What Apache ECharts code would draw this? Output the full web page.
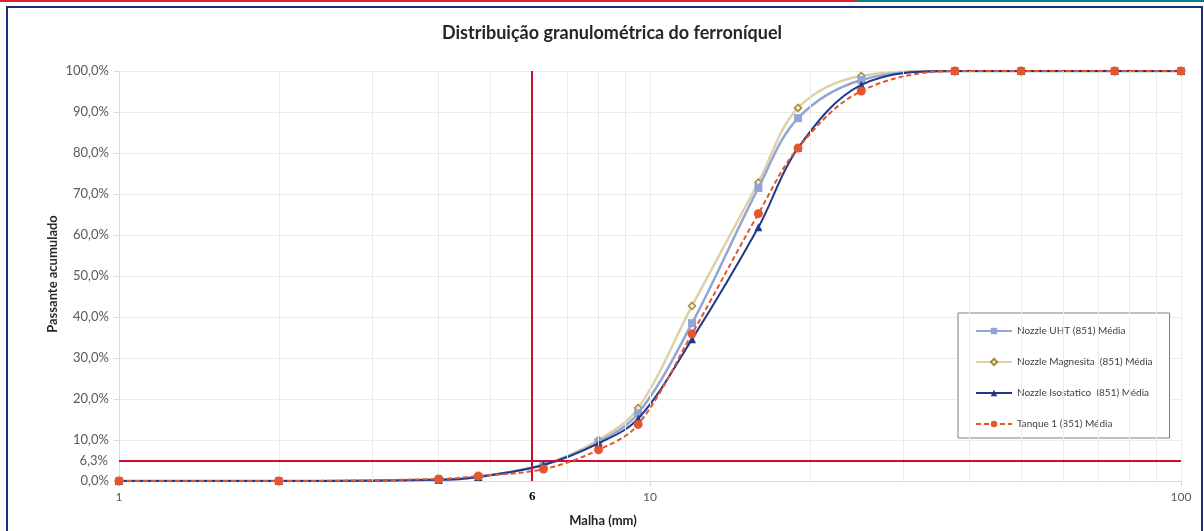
<!DOCTYPE html>
<html><head><meta charset="utf-8">
<script src="https://cdn.jsdelivr.net/npm/echarts@6/dist/echarts.min.js"></script>
<style>html,body{margin:0;padding:0;background:#fff}#c{width:1204px;height:531px}</style>
</head><body><div id="c"></div>
<script>
// Malha (mm) – sieve openings
const sizes = [1, 2, 4, 4.75, 6.3, 8, 9.5, 12, 16, 19, 25, 37.5, 50, 75, 100];
// Passante acumulado (%)
const uht      = [0, 0, 0.3, 1.0, 4.0, 9.5, 16.5, 38.5, 71.5, 88.5, 97.8, 100, 100, 100, 100];
const magnesita= [0, 0, 0.3, 1.0, 4.0, 10.0, 17.8, 42.7, 72.8, 91.0, 98.8, 100, 100, 100, 100];
const isostatico=[0, 0, 0.3, 1.0, 3.9, 9.2, 15.2, 34.6, 61.9, 81.2, 96.6, 100, 100, 100, 100];
const tanque   = [0, 0, 0.5, 1.2, 2.9, 7.6, 13.8, 35.9, 65.2, 81.2, 95.1, 100, 100, 100, 100];
const seriesNames = ['Nozzle UHT (851) Média', 'Nozzle Magnesita  (851) Média', 'Nozzle Isostatico  (851) Média', 'Tanque 1 (851) Média'];
const minorX = [2,3,4,5,6,7,8,9,10,20,30,40,50,60,70,80,90];
const refX = 6;
const refYLabel = 6.3;   // value written on the reference line
const refYDrawn = 4.9;   // height at which the reference picture draws that line

const pts = arr => sizes.map((x, i) => [x, arr[i]]);
const fmtPct = v => v.toFixed(1).replace('.', ',') + '%';
const FONT = 'Lato';

const chart = echarts.init(document.getElementById('c'), null, {renderer: 'canvas'});
chart.setOption({
  animation: false,
  backgroundColor: '#fff',
  graphic: [
    {type: 'rect', shape: {x: 0, y: 0, width: 855, height: 2}, style: {fill: '#E0202E'}},
    {type: 'rect', shape: {x: 855, y: 0, width: 349, height: 2}, style: {fill: '#0F7C8A'}},
    {type: 'rect', shape: {x: 7, y: 7, width: 1195, height: 530}, style: {fill: 'none', stroke: '#1B2F7A', lineWidth: 2}},
    {type: 'text', x: 612, y: 33, style: {text: 'Distribuição granulométrica do ferroníquel', font: 'bold 18px ' + FONT, fill: '#262626', textAlign: 'center', textVerticalAlign: 'middle'}},
    {type: 'text', x: 603, y: 521, style: {text: 'Malha (mm)', font: 'bold 13px ' + FONT, fill: '#262626', textAlign: 'center', textVerticalAlign: 'middle'}},
    {type: 'text', x: 53, y: 274, rotation: Math.PI / 2, style: {text: 'Passante acumulado', font: 'bold 13px ' + FONT, fill: '#262626', textAlign: 'center', textVerticalAlign: 'middle'}}
  ],
  grid: {left: 119, right: 23, top: 71, bottom: 50, containLabel: false},
  legend: {
    data: seriesNames,
    orient: 'vertical',
    left: 958, top: 313,
    width: 212,
    padding: [13, 17, 9, 17],
    itemGap: 21,
    itemWidth: 36, itemHeight: 8,
    backgroundColor: '#fff',
    borderColor: '#7f7f7f', borderWidth: 1,
    textStyle: {fontFamily: FONT, fontSize: 10, color: '#404040'}
  },
  xAxis: {
    type: 'log', logBase: 10, min: 1, max: 100,
    axisLine: {show: true, lineStyle: {color: '#d9d9d9', width: 1}},
    axisTick: {show: true, length: 5, lineStyle: {color: '#d9d9d9'}},
    axisLabel: {color: '#595959', fontFamily: FONT, fontSize: 12, margin: 10},
    splitLine: {show: true, lineStyle: {color: '#ebebeb'}}
  },
  yAxis: {
    type: 'value', min: 0, max: 100, interval: 10,
    axisLine: {show: true, lineStyle: {color: '#d9d9d9', width: 1}},
    axisTick: {show: true, length: 5, lineStyle: {color: '#d9d9d9'}},
    axisLabel: {color: '#595959', fontFamily: FONT, fontSize: 13, margin: 10, formatter: fmtPct},
    splitLine: {show: true, lineStyle: {color: '#ebebeb'}}
  },
  series: [
    {
      name: 'grid', type: 'line', data: [], z: 0, silent: true,
      markLine: {silent: true, symbol: ['none', 'none'], animation: false,
        lineStyle: {color: '#ebebeb', width: 1, type: 'solid'}, label: {show: false},
        data: minorX.map(v => ({xAxis: v}))}
    },
    {
      name: 'ref', type: 'line', data: [], z: 1, silent: true,
      markLine: {silent: true, symbol: ['none', 'none'], animation: false,
        lineStyle: {color: '#C8102E', width: 2, type: 'solid'},
        data: [
          {xAxis: refX, label: {show: true, position: 'start', formatter: String(refX), distance: 9, color: '#000', fontFamily: 'Liberation Serif', fontWeight: 'bold', fontSize: 13}},
          {yAxis: refYDrawn, label: {show: true, position: 'start', formatter: fmtPct(refYLabel), distance: 11, color: '#595959', fontFamily: FONT, fontSize: 13}}
        ]}
    },
    {
      name: seriesNames[0], type: 'line', data: pts(uht), smooth: 0.35, z: 3,
      symbol: 'rect', symbolSize: 8,
      lineStyle: {color: '#93A5D6', width: 2.5}, itemStyle: {color: '#93A5D6'}
    },
    {
      name: seriesNames[1], type: 'line', data: pts(magnesita), smooth: 0.35, z: 2,
      symbol: 'diamond', symbolSize: 7,
      lineStyle: {color: '#DDD2A6', width: 2.5}, itemStyle: {color: '#F2ECD6', borderColor: '#A8893A', borderWidth: 1.5}
    },
    {
      name: seriesNames[2], type: 'line', data: pts(isostatico), smooth: 0.35, z: 4,
      symbol: 'triangle', symbolSize: 8,
      lineStyle: {color: '#1F3A8A', width: 2}, itemStyle: {color: '#1F3A8A'}
    },
    {
      name: seriesNames[3], type: 'line', data: pts(tanque), smooth: 0.35, z: 5,
      symbol: 'circle', symbolSize: 9,
      lineStyle: {color: '#E4572E', width: 2, type: [5, 3]}, itemStyle: {color: '#E4572E'}
    }
  ]
});
</script></body></html>
